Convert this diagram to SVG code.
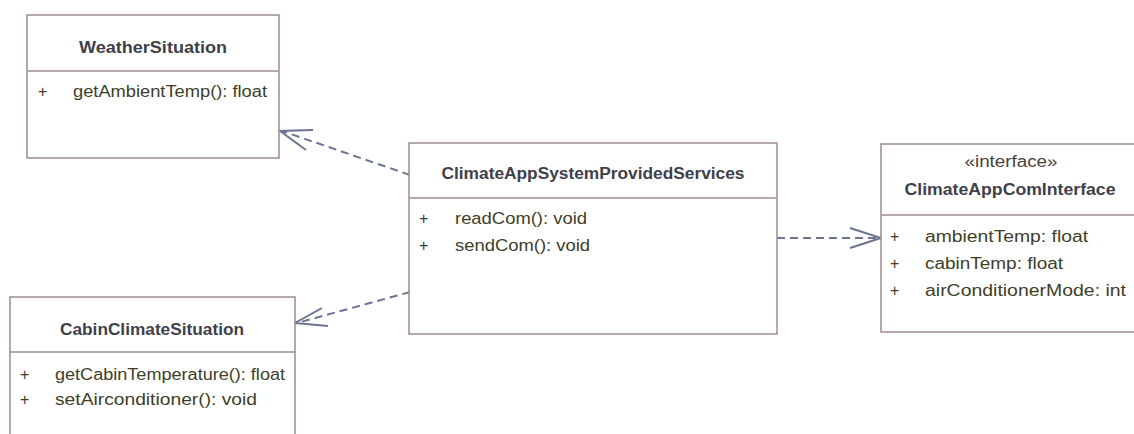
<svg xmlns="http://www.w3.org/2000/svg" width="1134" height="434" viewBox="0 0 1134 434">
  <style>
    .box { fill: #ffffff; stroke: #a08c8c; stroke-width: 1.5; }
    .div { stroke: #a08c8c; stroke-width: 1.5; }
    .title { font-family: "Liberation Sans", Arial, sans-serif; font-size: 16px; font-weight: bold; fill: #3f3f4c; text-anchor: middle; }
    .stereo { font-family: "Liberation Sans", Arial, sans-serif; font-size: 16px; fill: #4a4038; text-anchor: middle; }
    .member { font-family: "Liberation Sans", Arial, sans-serif; font-size: 16px; fill: #3e3e28; }
    .dep { fill: none; stroke: #6b7490; stroke-width: 2; stroke-dasharray: 8 5; }
    .head { fill: none; stroke: #6b7490; stroke-width: 2; }
  </style>

  <rect width="1134" height="434" fill="#ffffff"/>

  <!-- dependency connectors -->
  <g id="connectors">
    <line class="dep" x1="410" y1="175" x2="282" y2="131"/>
    <polyline class="head" points="313,130 280,131 306,150"/>
    <line class="dep" x1="410" y1="292" x2="297" y2="323"/>
    <polyline class="head" points="322,308 295,323 328,326"/>
    <line class="dep" x1="777" y1="238" x2="879" y2="238"/>
    <polyline class="head" points="850,228 881,238 850,248"/>
  </g>

  <g id="WeatherSituation">
    <rect class="box" x="27" y="15" width="252" height="143"/>
    <line class="div" x1="27" y1="71" x2="279" y2="71"/>
    <text class="title" x="153" y="53" textLength="148" lengthAdjust="spacingAndGlyphs">WeatherSituation</text>
    <text class="member" x="38" y="97">+</text>
    <text class="member" x="73" y="97" textLength="194" lengthAdjust="spacingAndGlyphs">getAmbientTemp(): float</text>
  </g>

  <g id="ClimateAppSystemProvidedServices">
    <rect class="box" x="409" y="143" width="368" height="191"/>
    <line class="div" x1="409" y1="198" x2="777" y2="198"/>
    <text class="title" x="593" y="179" textLength="303" lengthAdjust="spacingAndGlyphs">ClimateAppSystemProvidedServices</text>
    <text class="member" x="419" y="224">+</text>
    <text class="member" x="455" y="224" textLength="132" lengthAdjust="spacingAndGlyphs">readCom(): void</text>
    <text class="member" x="419" y="251">+</text>
    <text class="member" x="455" y="251" textLength="135" lengthAdjust="spacingAndGlyphs">sendCom(): void</text>
  </g>

  <g id="ClimateAppComInterface">
    <rect class="box" x="881" y="144" width="260" height="188"/>
    <line class="div" x1="881" y1="215" x2="1141" y2="215"/>
    <text class="stereo" x="1011" y="167" textLength="93" lengthAdjust="spacingAndGlyphs">«interface»</text>
    <text class="title" x="1010" y="195" textLength="211" lengthAdjust="spacingAndGlyphs">ClimateAppComInterface</text>
    <text class="member" x="890" y="242">+</text>
    <text class="member" x="925" y="242" textLength="163" lengthAdjust="spacingAndGlyphs">ambientTemp: float</text>
    <text class="member" x="890" y="269">+</text>
    <text class="member" x="925" y="269" textLength="138" lengthAdjust="spacingAndGlyphs">cabinTemp: float</text>
    <text class="member" x="890" y="296">+</text>
    <text class="member" x="925" y="296" textLength="201" lengthAdjust="spacingAndGlyphs">airConditionerMode: int</text>
  </g>

  <g id="CabinClimateSituation">
    <rect class="box" x="10" y="297" width="285" height="150"/>
    <line class="div" x1="10" y1="352" x2="295" y2="352"/>
    <text class="title" x="152" y="335" textLength="184" lengthAdjust="spacingAndGlyphs">CabinClimateSituation</text>
    <text class="member" x="20" y="380">+</text>
    <text class="member" x="55" y="380" textLength="230" lengthAdjust="spacingAndGlyphs">getCabinTemperature(): float</text>
    <text class="member" x="20" y="405">+</text>
    <text class="member" x="55" y="405" textLength="202" lengthAdjust="spacingAndGlyphs">setAirconditioner(): void</text>
  </g>
</svg>
